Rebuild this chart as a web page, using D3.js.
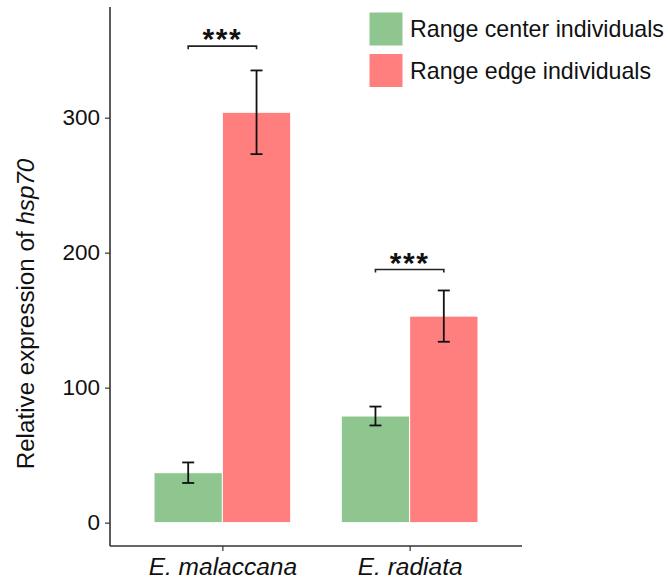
<!DOCTYPE html>
<html>
<head>
<meta charset="utf-8">
<script src="https://cdn.jsdelivr.net/npm/d3@7"></script>
<style>
  body { margin: 0; background: #fff; }
  svg { display: block; font-family: Arial, "Liberation Sans", sans-serif; }
</style>
</head>
<body>
<svg id="chart" width="668" height="585"></svg>
<script>
// species on the x axis
var species = ['E. malaccana', 'E. radiata'];
// legend / series names
var groups = ['Range center individuals', 'Range edge individuals'];
// mean relative expression, one array per series (same order as species)
var centerMeans = [37, 79];
var edgeMeans = [304, 153];
// standard errors
var centerErr = [7.6, 7];
var edgeErr = [31, 19];
// y ticks
var yTicks = [0, 100, 200, 300];
// significance brackets (species index, bracket height, label)
var sigSpecies = [0, 1];
var sigHeights = [353, 187.5];
var sigLabels = ['***', '***'];

var colors = ['#8fc68f', '#ff7f7f'];

(function () {
    var svg = d3.select('#chart'),
        left = 110, right = 522, top = 7, bottom = 546;

    // discrete positions 1..n with ggplot-like padding of 0.6
    var x = d3.scaleLinear().domain([0.4, species.length + 0.6]).range([left, right]),
        y = d3.scaleLinear().domain([-17.3, 382]).range([bottom, top]);

    var barW = 0.365; // width of one bar in category units
    var rows = [];
    species.forEach(function (s, i) {
        rows.push({sp: i, g: 0, v: centerMeans[i], e: centerErr[i]});
        rows.push({sp: i, g: 1, v: edgeMeans[i], e: edgeErr[i]});
    });
    function barX(d) { return x(d.sp + 1 + (d.g === 0 ? -barW : 0)); }
    function barMid(d) { return x(d.sp + 1 + (d.g === 0 ? -barW / 2 : barW / 2)); }

    // bars
    svg.append('g').selectAll('rect').data(rows).enter().append('rect')
        .attr('x', barX)
        .attr('width', x(1 + barW) - x(1))
        .attr('y', function (d) { return y(d.v); })
        .attr('height', function (d) { return y(0) - y(d.v); })
        .attr('fill', function (d) { return colors[d.g]; })
        .attr('stroke', '#fff')
        .attr('stroke-width', 1);

    // error bars
    var eb = svg.append('g').attr('stroke', '#111').attr('stroke-width', 1.8).attr('fill', 'none');
    rows.forEach(function (d) {
        var cx = barMid(d), y1 = y(d.v + d.e), y2 = y(d.v - d.e);
        eb.append('line').attr('x1', cx).attr('x2', cx).attr('y1', y1).attr('y2', y2);
        eb.append('line').attr('x1', cx - 6).attr('x2', cx + 6).attr('y1', y1).attr('y2', y1);
        eb.append('line').attr('x1', cx - 6).attr('x2', cx + 6).attr('y1', y2).attr('y2', y2);
    });

    // significance brackets
    var sg = svg.append('g');
    sigSpecies.forEach(function (si, k) {
        var x1 = x(si + 1 - barW / 2), x2 = x(si + 1 + barW / 2), yy = y(sigHeights[k]);
        sg.append('path')
            .attr('d', 'M' + x1 + ',' + (yy + 3) + 'V' + yy + 'H' + x2 + 'V' + (yy + 3))
            .attr('stroke', '#222').attr('stroke-width', 1.6).attr('fill', 'none');
        sg.append('text')
            .attr('x', (x1 + x2) / 2)
            .attr('y', yy + 3)
            .attr('text-anchor', 'middle')
            .attr('font-size', 30)
            .attr('font-weight', 'bold')
            .attr('letter-spacing', 1.5)
            .attr('fill', '#111')
            .text(sigLabels[k]);
    });

    // y axis
    var yAxis = svg.append('g')
        .attr('transform', 'translate(' + left + ',0)')
        .call(d3.axisLeft(y).tickValues(yTicks).tickSize(5).tickPadding(5).tickFormat(d3.format('d')));
    yAxis.select('.domain').attr('d', 'M0,' + top + 'V' + bottom).attr('stroke', '#333').attr('stroke-width', 1.6);
    yAxis.selectAll('.tick line').attr('stroke', '#333').attr('stroke-width', 1.2);
    yAxis.selectAll('.tick text').attr('font-size', 22.5).attr('fill', '#111').attr('font-family', 'Arial, "Liberation Sans", sans-serif');

    // x axis
    var xAxis = svg.append('g')
        .attr('transform', 'translate(0,' + bottom + ')')
        .call(d3.axisBottom(x).tickValues(species.map(function (s, i) { return i + 1; }))
            .tickSize(5).tickPadding(7)
            .tickFormat(function (d) { return species[d - 1]; }));
    xAxis.select('.domain').attr('d', 'M' + left + ',0H' + right).attr('stroke', '#333').attr('stroke-width', 1.6);
    xAxis.selectAll('.tick line').attr('stroke', '#333').attr('stroke-width', 1.2);
    xAxis.selectAll('.tick text').attr('font-size', 24.5).attr('font-style', 'italic').attr('fill', '#111')
        .attr('font-family', 'Arial, "Liberation Sans", sans-serif');

    // y axis title
    var title = svg.append('text')
        .attr('transform', 'translate(34,314) rotate(-90)')
        .attr('text-anchor', 'middle')
        .attr('font-size', 24.2)
        .attr('fill', '#111');
    title.append('tspan').text('Relative expression of ');
    title.append('tspan').attr('font-style', 'italic').text('hsp70');

    // legend
    var lg = svg.append('g').attr('transform', 'translate(369,12)');
    groups.forEach(function (g, i) {
        var row = lg.append('g').attr('transform', 'translate(0,' + (i * 41.5) + ')');
        row.append('rect').attr('width', 34).attr('height', 34).attr('fill', colors[i])
            .attr('stroke', '#fff').attr('stroke-width', 1);
        row.append('text').attr('x', 41).attr('y', 17).attr('dy', '0.35em')
            .attr('font-size', 23.2).attr('fill', '#111').text(g);
    });
}());
</script>
</body>
</html>
